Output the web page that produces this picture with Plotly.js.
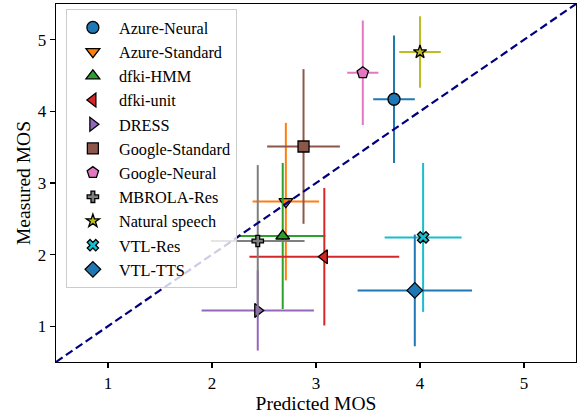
<!DOCTYPE html>
<html>
<head>
<meta charset="utf-8">
<script src="https://cdn.plot.ly/plotly-3.0.1.min.js"></script>
<style>html,body{margin:0;padding:0;background:#fff;}#chart{width:579px;height:414px;}</style>
</head>
<body>
<div id="chart"></div>
<script>
const systems = ["Azure-Neural","Azure-Standard","dfki-HMM","dfki-unit","DRESS","Google-Standard","Google-Neural","MBROLA-Res","Natural speech","VTL-Res","VTL-TTS"];
const predictedMOS = [3.75, 2.71, 2.68, 3.08, 2.44, 2.88, 3.45, 2.44, 4.00, 4.03, 3.95];
const measuredMOS  = [4.17, 2.74, 2.26, 1.97, 1.22, 3.51, 4.54, 2.19, 4.83, 2.24, 1.50];
const predictedErr = [0.20, 0.32, 0.41, 0.72, 0.54, 0.35, 0.15, 0.45, 0.20, 0.37, 0.55];
const measuredErr  = [0.89, 1.10, 1.02, 0.96, 0.56, 1.08, 0.73, 1.06, 0.50, 1.04, 0.78];
const colors  = ["#1f77b4","#ff7f0e","#2ca02c","#d62728","#9467bd","#8c564b","#e377c2","#7f7f7f","#bcbd22","#17becf","#1f77b4"];
const symbols = ["circle","triangle-down","triangle-up","triangle-left","triangle-right","square","pentagon","cross","star","x","diamond"];
const sizes   = [12, 12, 12, 12, 12, 11, 12, 9.5, 10, 10, 12];
const diagonal = [0.5, 5.5];

const FONT = "Liberation Serif, Times New Roman, serif";
const traces = systems.map((name, i) => ({
  type: "scatter", mode: "markers", name: name,
  x: [predictedMOS[i]], y: [measuredMOS[i]],
  error_x: {type: "data", array: [predictedErr[i]], symmetric: true, color: colors[i], thickness: 2, width: 0},
  error_y: {type: "data", array: [measuredErr[i]], symmetric: true, color: colors[i], thickness: 2, width: 0},
  marker: {color: colors[i], symbol: symbols[i], size: sizes[i], line: {color: "#000", width: 1.3}}
}));
traces.push({
  type: "scatter", mode: "lines", x: diagonal, y: diagonal, showlegend: false, hoverinfo: "skip",
  line: {color: "#000080", width: 2.2, dash: "8px,4px"}
});

const axisCommon = {
  range: [0.5, 5.5], tickvals: [1,2,3,4,5], ticks: "outside", ticklen: 5, tickwidth: 1.2, tickcolor: "#000",
  showline: true, mirror: true, linecolor: "#000", linewidth: 1.3, showgrid: false, zeroline: false,
  tickfont: {family: FONT, size: 17, color: "#000"}
};
const layout = {
  width: 579, height: 414,
  margin: {l: 56, r: 3, t: 4, b: 52},
  paper_bgcolor: "#fff", plot_bgcolor: "#fff",
  font: {family: FONT, color: "#000"},
  xaxis: Object.assign({}, axisCommon, {title: {text: "Predicted MOS", font: {family: FONT, size: 19.5, color: "#000"}, standoff: 4}}),
  yaxis: Object.assign({}, axisCommon, {title: {text: "Measured MOS", font: {family: FONT, size: 19.5, color: "#000"}, standoff: 2}}),
  legend: {x: 0.019, y: 0.985, xanchor: "left", yanchor: "top", bgcolor: "rgba(255,255,255,0.8)", itemwidth: 42,
           bordercolor: "#cccccc", borderwidth: 1, font: {family: FONT, size: 16.3, color: "#000"}},
  showlegend: true
};
Plotly.newPlot("chart", traces, layout, {staticPlot: true, displayModeBar: false});
</script>
</body>
</html>
